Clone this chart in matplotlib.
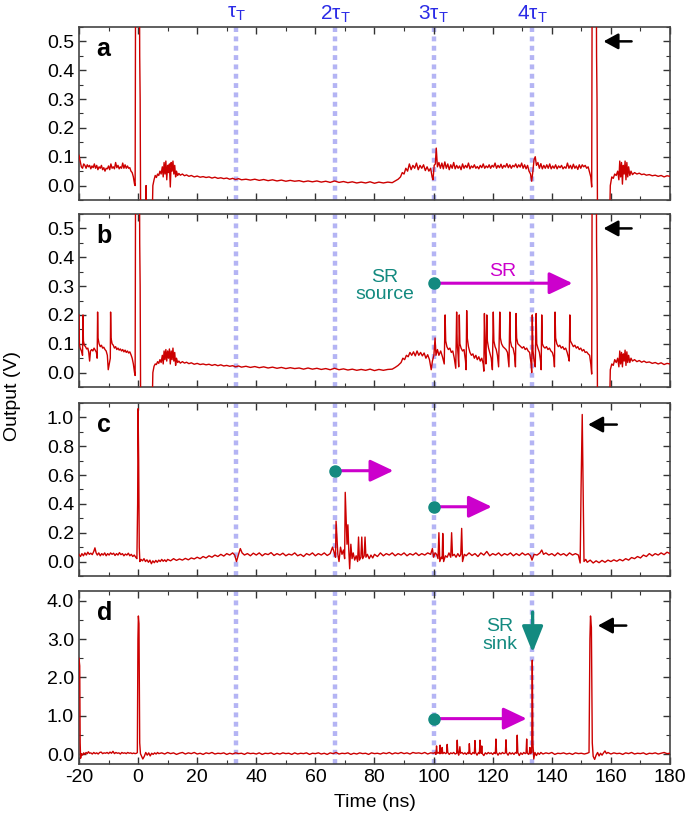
import numpy as np
import matplotlib.pyplot as plt
from matplotlib.ticker import MultipleLocator
from matplotlib.transforms import blended_transform_factory

plt.rcParams['font.family'] = ['Liberation Sans', 'DejaVu Sans']
plt.rcParams['axes.unicode_minus'] = False

# time (ns), output (V)
a_pts = np.array([
    (-20.0, 0.105), (-19.6, 0.085), (-19.2, 0.065), (-18.8, 0.06), (-18.4, 0.075), (-18.0, 0.07),
    (-17.6, 0.06), (-17.2, 0.072), (-16.8, 0.065), (-16.4, 0.07), (-16.0, 0.058), (-15.6, 0.068),
    (-15.2, 0.062), (-14.8, 0.075), (-14.4, 0.06), (-14.0, 0.07), (-13.6, 0.055), (-13.2, 0.065),
    (-12.8, 0.06), (-12.4, 0.07), (-12.0, 0.055), (-11.6, 0.062), (-11.2, 0.05), (-10.8, 0.06),
    (-10.4, 0.058), (-10.0, 0.068), (-9.6, 0.055), (-9.2, 0.075), (-8.8, 0.06), (-8.4, 0.065),
    (-8.0, 0.058), (-7.6, 0.08), (-7.2, 0.062), (-6.8, 0.07), (-6.4, 0.058), (-6.0, 0.065),
    (-5.6, 0.06), (-5.2, 0.078), (-4.8, 0.06), (-4.4, 0.072), (-4.0, 0.06), (-3.6, 0.068),
    (-3.2, 0.06), (-2.8, 0.062), (-2.4, 0.05), (-2.0, 0.045), (-1.6, 0.03), (-1.2, 0.005),
    (-1.0, 0.0), (-0.8, 0.9), (0.4, 0.9), (0.55, 0.45), (0.7, 0.3), (0.9, -0.2), (2.5, -0.2),
    (2.7, 0.0), (2.9, -0.2), (4.6, -0.2), (5.0, 0.0), (5.4, 0.02), (5.8, 0.035), (6.2, 0.028),
    (6.6, 0.04), (7.0, 0.035), (7.4, 0.05), (7.8, 0.04), (8.2, 0.065), (8.5, 0.03), (8.8, 0.08),
    (9.1, 0.04), (9.4, 0.085), (9.7, 0.02), (10.0, 0.07), (10.3, 0.045), (10.6, 0.075), (10.9, -0.005),
    (11.2, 0.08), (11.5, 0.05), (11.8, 0.085), (12.1, 0.04), (12.4, 0.07), (12.7, 0.03), (13.0, 0.05),
    (13.4, 0.035), (13.8, 0.042), (14.3, 0.036), (15.0, 0.04), (15.7, 0.034), (16.4, 0.037),
    (17.2, 0.032), (18.0, 0.035), (19.0, 0.03), (20.0, 0.033), (21.0, 0.029), (22.0, 0.031),
    (23.0, 0.028), (24.0, 0.03), (25.0, 0.026), (26.0, 0.029), (27.0, 0.025), (28.0, 0.027),
    (29.0, 0.024), (30.0, 0.026), (31.0, 0.022), (32.0, 0.025), (33.0, 0.021), (34.0, 0.024),
    (35.0, 0.02), (36.5, 0.022), (38.0, 0.019), (39.5, 0.022), (41.0, 0.018), (42.5, 0.021),
    (44.0, 0.017), (45.5, 0.02), (47.0, 0.016), (48.5, 0.019), (50.0, 0.015), (51.5, 0.018),
    (53.0, 0.015), (54.5, 0.017), (56.0, 0.013), (57.5, 0.016), (59.0, 0.013), (60.5, 0.016),
    (62.0, 0.012), (63.5, 0.015), (65.0, 0.011), (66.5, 0.016), (68.0, 0.011), (69.5, 0.014),
    (71.0, 0.01), (72.5, 0.013), (74.0, 0.009), (75.5, 0.012), (77.0, 0.009), (78.5, 0.013),
    (80.0, 0.008), (81.5, 0.012), (83.0, 0.009), (84.5, 0.012), (86.0, 0.01), (87.0, 0.016),
    (88.0, 0.022), (88.8, 0.03), (89.4, 0.045), (90.0, 0.04), (90.6, 0.06), (91.2, 0.05),
    (91.8, 0.075), (92.4, 0.055), (93.0, 0.07), (93.6, 0.06), (94.2, 0.078), (94.8, 0.055),
    (95.4, 0.07), (96.0, 0.06), (96.6, 0.072), (97.2, 0.052), (97.8, 0.065), (98.4, 0.05),
    (99.0, 0.06), (99.5, 0.03), (99.8, 0.02), (100.2, 0.07), (100.6, 0.075), (100.9, 0.13),
    (101.3, 0.065), (101.8, 0.08), (102.3, 0.06), (102.8, 0.078), (103.3, 0.058), (103.8, 0.082),
    (104.3, 0.06), (104.8, 0.075), (105.3, 0.055), (105.8, 0.072), (106.3, 0.06), (106.8, 0.08),
    (107.3, 0.058), (107.8, 0.07), (108.3, 0.06), (108.8, 0.068), (109.3, 0.055), (109.8, 0.075),
    (110.3, 0.06), (110.8, 0.07), (111.3, 0.062), (111.8, 0.078), (112.3, 0.058), (112.8, 0.068),
    (113.3, 0.062), (113.8, 0.072), (114.3, 0.06), (114.8, 0.066), (115.3, 0.058), (115.8, 0.07),
    (116.3, 0.062), (116.8, 0.075), (117.3, 0.06), (117.8, 0.068), (118.3, 0.062), (118.8, 0.072),
    (119.3, 0.06), (119.8, 0.07), (120.3, 0.064), (120.8, 0.078), (121.3, 0.06), (121.8, 0.07),
    (122.3, 0.062), (122.8, 0.074), (123.3, 0.06), (123.8, 0.07), (124.3, 0.064), (124.8, 0.076),
    (125.3, 0.062), (125.8, 0.072), (126.3, 0.06), (126.8, 0.07), (127.3, 0.065), (127.8, 0.075),
    (128.3, 0.062), (128.8, 0.072), (129.3, 0.064), (129.8, 0.078), (130.3, 0.06), (130.8, 0.072),
    (131.3, 0.058), (131.8, 0.07), (132.3, 0.05), (132.8, 0.04), (133.2, 0.015), (133.6, 0.05),
    (134.0, 0.09), (134.4, 0.1), (134.8, 0.07), (135.3, 0.08), (135.8, 0.06), (136.3, 0.076),
    (136.8, 0.058), (137.3, 0.07), (137.8, 0.06), (138.3, 0.072), (138.8, 0.06), (139.3, 0.075),
    (139.8, 0.058), (140.3, 0.068), (140.8, 0.06), (141.3, 0.072), (141.8, 0.058), (142.3, 0.068),
    (142.8, 0.062), (143.3, 0.07), (143.8, 0.058), (144.3, 0.065), (144.8, 0.06), (145.3, 0.078),
    (145.8, 0.06), (146.3, 0.07), (146.8, 0.058), (147.3, 0.074), (147.8, 0.06), (148.3, 0.068),
    (148.8, 0.056), (149.3, 0.072), (149.8, 0.06), (150.3, 0.072), (150.8, 0.065), (151.3, 0.07),
    (151.8, 0.06), (152.3, 0.065), (152.8, 0.045), (153.2, 0.03), (153.5, -0.005), (153.7, 0.9),
    (155.0, 0.9), (155.15, 0.45), (155.3, 0.3), (155.5, -0.2), (159.4, -0.2), (159.8, 0.0),
    (160.3, 0.03), (160.8, 0.025), (161.3, 0.04), (161.8, 0.035), (162.3, 0.05), (162.7, 0.02),
    (163.0, 0.085), (163.3, 0.03), (163.6, 0.08), (163.9, 0.005), (164.2, 0.07), (164.5, 0.04),
    (164.8, 0.085), (165.1, 0.02), (165.4, 0.08), (165.7, 0.03), (166.0, 0.065), (166.4, 0.035),
    (166.8, 0.05), (167.3, 0.038), (168.0, 0.045), (168.8, 0.04), (169.6, 0.043), (170.4, 0.038),
    (171.2, 0.04), (172.0, 0.036), (173.0, 0.038), (174.0, 0.034), (175.0, 0.036), (176.0, 0.032),
    (177.0, 0.035), (178.0, 0.03), (179.0, 0.034), (180.0, 0.032),
])

b_pts = np.array([
    (-20.0, 0.2), (-19.85, 0.1), (-19.6, 0.085), (-19.3, 0.078), (-19.0, 0.07), (-18.8, 0.06),
    (-18.65, 0.2), (-18.5, 0.11), (-18.2, 0.095), (-17.8, 0.09), (-17.4, 0.082), (-17.0, 0.085),
    (-16.7, 0.07), (-16.4, 0.04), (-16.1, 0.075), (-15.7, 0.08), (-15.3, 0.075), (-14.9, 0.085),
    (-14.5, 0.078), (-14.1, 0.07), (-13.85, 0.05), (-13.7, 0.21), (-13.55, 0.12), (-13.2, 0.1),
    (-12.8, 0.09), (-12.4, 0.095), (-12.0, 0.085), (-11.6, 0.088), (-11.2, 0.08), (-10.8, 0.075),
    (-10.4, 0.06), (-10.1, 0.01), (-9.4, 0.05), (-9.3, 0.21), (-9.15, 0.12), (-8.8, 0.1),
    (-8.4, 0.095), (-8.0, 0.085), (-7.6, 0.09), (-7.2, 0.08), (-6.8, 0.085), (-6.4, 0.078),
    (-6.0, 0.082), (-5.6, 0.075), (-5.2, 0.08), (-4.8, 0.072), (-4.4, 0.078), (-4.0, 0.07),
    (-3.6, 0.075), (-3.2, 0.068), (-2.8, 0.072), (-2.4, 0.062), (-2.0, 0.05), (-1.6, 0.03),
    (-1.2, 0.0), (-1.0, -0.01), (-0.8, 0.9), (0.4, 0.9), (0.55, 0.45), (0.7, 0.3), (0.9, -0.2),
    (4.6, -0.2), (5.0, 0.0), (5.4, 0.022), (5.8, 0.03), (6.2, 0.028), (6.6, 0.038), (7.0, 0.032),
    (7.4, 0.045), (7.8, 0.035), (8.2, 0.06), (8.5, 0.03), (8.8, 0.075), (9.1, 0.045), (9.4, 0.08),
    (9.7, 0.04), (10.0, 0.075), (10.3, 0.05), (10.6, 0.082), (10.9, 0.03), (11.2, 0.075),
    (11.5, 0.045), (11.8, 0.085), (12.1, 0.04), (12.4, 0.07), (12.7, 0.025), (13.0, 0.05),
    (13.4, 0.035), (13.8, 0.04), (14.3, 0.033), (15.0, 0.038), (15.7, 0.033), (16.4, 0.036),
    (17.2, 0.031), (18.0, 0.034), (19.0, 0.029), (20.0, 0.032), (21.0, 0.028), (22.0, 0.03),
    (23.0, 0.027), (24.0, 0.029), (25.0, 0.025), (26.0, 0.028), (27.0, 0.024), (28.0, 0.027),
    (29.0, 0.023), (30.0, 0.025), (31.0, 0.022), (32.0, 0.024), (33.0, 0.02), (34.0, 0.023),
    (35.0, 0.019), (36.5, 0.022), (38.0, 0.018), (39.5, 0.021), (41.0, 0.017), (42.5, 0.02),
    (44.0, 0.016), (45.5, 0.019), (47.0, 0.015), (48.5, 0.018), (50.0, 0.014), (51.5, 0.017),
    (53.0, 0.014), (54.5, 0.016), (56.0, 0.012), (57.5, 0.016), (59.0, 0.012), (60.5, 0.015),
    (62.0, 0.011), (63.5, 0.014), (65.0, 0.01), (66.5, 0.015), (68.0, 0.01), (69.5, 0.013),
    (71.0, 0.009), (72.5, 0.012), (74.0, 0.008), (75.5, 0.011), (77.0, 0.008), (78.5, 0.012),
    (80.0, 0.007), (81.5, 0.011), (83.0, 0.008), (84.5, 0.011), (86.0, 0.012), (87.0, 0.018),
    (88.0, 0.025), (89.0, 0.035), (89.6, 0.05), (90.2, 0.045), (90.8, 0.06), (91.4, 0.055),
    (92.0, 0.07), (92.6, 0.06), (93.2, 0.072), (93.8, 0.058), (94.4, 0.075), (95.0, 0.06),
    (95.6, 0.07), (96.2, 0.058), (96.8, 0.068), (97.4, 0.05), (98.0, 0.062), (98.6, 0.045),
    (99.2, 0.01), (99.6, 0.04), (100.1, 0.06), (100.5, 0.12), (100.8, 0.06), (101.3, 0.08),
    (101.8, 0.06), (102.4, 0.075), (103.0, 0.055), (103.6, 0.03), (103.9, 0.2), (104.1, 0.11),
    (104.5, 0.09), (105.0, 0.08), (105.5, 0.085), (106.0, 0.07), (106.5, 0.075), (107.0, 0.05),
    (107.5, 0.015), (107.8, 0.21), (108.0, 0.1), (108.3, 0.06), (108.5, 0.02), (108.7, 0.2),
    (108.9, 0.1), (109.3, 0.085), (109.8, 0.075), (110.3, 0.08), (110.8, 0.04), (111.0, 0.01),
    (111.2, 0.215), (111.4, 0.12), (111.8, 0.09), (112.3, 0.07), (112.8, 0.06), (113.3, 0.065),
    (113.8, 0.05), (114.3, 0.06), (114.8, 0.045), (115.3, 0.055), (115.8, 0.04), (116.3, 0.05),
    (116.8, 0.03), (117.0, 0.005), (117.2, 0.205), (117.4, 0.1), (117.7, 0.03), (118.0, 0.2),
    (118.2, 0.11), (118.6, 0.085), (119.0, 0.07), (119.5, 0.05), (119.9, 0.01), (120.2, 0.21),
    (120.4, 0.11), (120.8, 0.09), (121.2, 0.08), (121.6, 0.06), (122.0, 0.02), (122.4, 0.21),
    (122.6, 0.12), (123.0, 0.1), (123.5, 0.09), (124.0, 0.085), (124.5, 0.08), (125.0, 0.07),
    (125.5, 0.02), (125.8, 0.21), (126.0, 0.11), (126.4, 0.09), (126.9, 0.085), (127.4, 0.06),
    (127.7, 0.02), (127.9, 0.205), (128.1, 0.12), (128.5, 0.1), (129.0, 0.095), (129.5, 0.09),
    (130.0, 0.085), (130.5, 0.09), (131.0, 0.08), (131.5, 0.085), (132.0, 0.075), (132.5, 0.07),
    (133.0, 0.03), (133.2, 0.0), (133.4, 0.2), (133.6, 0.08), (134.0, 0.04), (134.4, 0.02),
    (134.7, 0.205), (134.9, 0.1), (135.3, 0.085), (135.8, 0.07), (136.2, 0.04), (136.4, 0.01),
    (136.6, 0.2), (136.8, 0.1), (137.2, 0.09), (137.7, 0.085), (138.2, 0.09), (138.7, 0.08),
    (139.2, 0.085), (139.7, 0.075), (140.2, 0.07), (140.7, 0.05), (140.9, 0.02), (141.1, 0.21),
    (141.3, 0.12), (141.7, 0.1), (142.2, 0.09), (142.7, 0.095), (143.2, 0.085), (143.7, 0.09),
    (144.2, 0.08), (144.7, 0.085), (145.2, 0.07), (145.7, 0.05), (145.9, 0.04), (146.1, 0.2),
    (146.3, 0.11), (146.8, 0.1), (147.3, 0.09), (147.8, 0.095), (148.3, 0.085), (148.8, 0.09),
    (149.3, 0.08), (149.8, 0.085), (150.3, 0.075), (150.8, 0.08), (151.3, 0.07), (151.8, 0.072),
    (152.3, 0.065), (152.8, 0.06), (153.2, 0.03), (153.5, -0.005), (153.7, 0.9), (155.0, 0.9),
    (155.15, 0.45), (155.3, 0.3), (155.5, -0.2), (159.4, -0.2), (159.8, 0.01), (160.3, 0.03),
    (160.8, 0.025), (161.3, 0.045), (161.8, 0.035), (162.3, 0.05), (162.7, 0.02), (163.0, 0.075),
    (163.3, 0.03), (163.6, 0.07), (163.9, 0.02), (164.2, 0.065), (164.5, 0.04), (164.8, 0.078),
    (165.1, 0.025), (165.4, 0.072), (165.7, 0.035), (166.0, 0.06), (166.4, 0.035), (166.8, 0.05),
    (167.3, 0.04), (168.0, 0.045), (168.8, 0.038), (169.6, 0.042), (170.4, 0.036), (171.2, 0.04),
    (172.0, 0.035), (173.0, 0.037), (174.0, 0.032), (175.0, 0.035), (176.0, 0.03), (177.0, 0.034),
    (178.0, 0.028), (179.0, 0.032), (180.0, 0.03),
])

c_pts = np.array([
    (-20.0, 0.05), (-19.5, 0.035), (-19.0, 0.055), (-18.5, 0.04), (-18.0, 0.06), (-17.5, 0.045),
    (-17.0, 0.065), (-16.5, 0.05), (-16.0, 0.058), (-15.5, 0.048), (-15.0, 0.07), (-14.6, 0.095),
    (-14.2, 0.06), (-13.8, 0.045), (-13.3, 0.06), (-12.8, 0.04), (-12.3, 0.055), (-11.8, 0.045),
    (-11.3, 0.06), (-10.8, 0.04), (-10.3, 0.055), (-9.8, 0.045), (-9.3, 0.06), (-8.8, 0.05),
    (-8.3, 0.058), (-7.8, 0.042), (-7.3, 0.055), (-6.8, 0.045), (-6.3, 0.062), (-5.8, 0.048),
    (-5.3, 0.055), (-4.8, 0.04), (-4.3, 0.052), (-3.8, 0.045), (-3.3, 0.058), (-2.8, 0.04),
    (-2.3, 0.05), (-1.8, 0.035), (-1.3, 0.045), (-0.8, 0.03), (-0.4, 0.02), (-0.15, 0.4),
    (0.0, 1.06), (0.2, 0.7), (0.4, 0.1), (0.6, 0.0), (1.0, 0.015), (1.5, 0.005), (2.0, 0.02),
    (2.5, 0.0), (3.0, 0.012), (3.5, -0.005), (4.0, 0.01), (4.5, -0.015), (5.0, 0.005), (5.5, -0.008),
    (6.0, 0.008), (6.5, -0.005), (7.0, 0.01), (7.5, 0.0), (8.0, 0.015), (8.5, 0.002), (9.0, 0.012),
    (9.5, 0.0), (10.0, 0.015), (11.0, 0.005), (12.0, 0.02), (13.0, 0.008), (14.0, 0.018),
    (15.0, 0.01), (16.0, 0.022), (17.0, 0.012), (18.0, 0.025), (19.0, 0.018), (20.0, 0.03),
    (21.0, 0.02), (22.0, 0.035), (23.0, 0.025), (24.0, 0.04), (25.0, 0.03), (26.0, 0.045),
    (27.0, 0.035), (28.0, 0.05), (29.0, 0.038), (30.0, 0.055), (31.0, 0.045), (32.0, 0.06),
    (32.7, 0.045), (33.3, 0.0), (34.0, 0.05), (34.6, 0.09), (35.2, 0.06), (36.0, 0.045),
    (37.0, 0.055), (38.0, 0.04), (39.0, 0.058), (40.0, 0.045), (41.0, 0.06), (42.0, 0.04),
    (43.0, 0.055), (44.0, 0.048), (45.0, 0.062), (46.0, 0.042), (47.0, 0.055), (48.0, 0.045),
    (49.0, 0.058), (50.0, 0.04), (51.0, 0.052), (52.0, 0.045), (53.0, 0.06), (54.0, 0.04),
    (55.0, 0.05), (56.0, 0.035), (57.0, 0.055), (58.0, 0.045), (59.0, 0.06), (60.0, 0.04),
    (61.0, 0.055), (62.0, 0.045), (63.0, 0.06), (64.0, 0.042), (65.0, 0.055), (65.8, 0.1),
    (66.4, 0.06), (66.8, 0.03), (67.0, 0.28), (67.3, 0.16), (67.6, 0.05), (68.0, 0.0),
    (68.5, 0.1), (69.0, 0.05), (69.5, 0.08), (69.9, 0.02), (70.1, 0.48), (70.4, 0.3), (70.7, 0.12),
    (71.0, 0.255), (71.3, 0.08), (71.6, -0.05), (72.0, 0.12), (72.4, 0.02), (72.8, 0.06),
    (73.3, 0.01), (73.8, 0.04), (74.3, 0.0), (74.6, 0.17), (74.9, 0.01), (75.4, 0.03),
    (75.7, 0.17), (76.0, 0.02), (76.5, 0.04), (76.8, 0.17), (77.1, 0.03), (77.6, 0.05),
    (78.2, 0.02), (78.8, 0.045), (79.4, 0.025), (80.0, 0.05), (81.0, 0.035), (82.0, 0.06),
    (83.0, 0.04), (84.0, 0.055), (85.0, 0.045), (86.0, 0.06), (87.0, 0.04), (88.0, 0.055),
    (89.0, 0.045), (90.0, 0.06), (91.0, 0.04), (92.0, 0.055), (93.0, 0.045), (94.0, 0.06),
    (95.0, 0.042), (96.0, 0.055), (97.0, 0.045), (98.0, 0.06), (99.0, 0.05), (99.6, 0.09),
    (100.0, 0.03), (100.5, 0.06), (101.0, 0.05), (101.5, 0.02), (101.8, 0.2), (102.1, 0.0),
    (102.6, 0.03), (102.9, 0.02), (103.1, 0.195), (103.4, 0.0), (104.0, 0.04), (104.6, 0.03),
    (105.2, 0.06), (105.8, 0.03), (106.1, 0.2), (106.4, 0.04), (107.0, 0.05), (107.6, 0.03),
    (108.2, 0.055), (108.8, 0.035), (109.2, 0.05), (109.5, 0.23), (109.8, 0.0), (110.4, 0.05),
    (111.0, 0.04), (112.0, 0.06), (113.0, 0.042), (114.0, 0.055), (115.0, 0.035), (116.0, 0.06),
    (117.0, 0.045), (118.0, 0.07), (119.0, 0.04), (120.0, 0.055), (121.0, 0.045), (122.0, 0.06),
    (123.0, 0.04), (124.0, 0.055), (125.0, 0.045), (126.0, 0.06), (127.0, 0.04), (128.0, 0.055),
    (129.0, 0.042), (130.0, 0.06), (131.0, 0.045), (132.0, 0.055), (132.8, 0.04), (133.3, 0.01),
    (134.0, 0.05), (135.0, 0.045), (136.0, 0.06), (136.6, 0.08), (137.2, 0.05), (138.0, 0.06),
    (139.0, 0.045), (140.0, 0.055), (141.0, 0.04), (142.0, 0.06), (143.0, 0.045), (144.0, 0.055),
    (145.0, 0.04), (146.0, 0.06), (147.0, 0.045), (148.0, 0.055), (149.0, 0.045), (149.6, -0.01),
    (149.9, 0.5), (150.3, 1.02), (150.6, 0.5), (150.9, 0.0), (151.5, 0.015), (152.0, -0.005),
    (153.0, 0.01), (154.0, -0.01), (155.0, 0.005), (156.0, -0.008), (157.0, 0.008), (158.0, -0.005),
    (159.0, 0.01), (160.0, 0.0), (161.0, 0.012), (162.0, 0.002), (163.0, 0.015), (164.0, 0.005),
    (165.0, 0.02), (166.0, 0.01), (167.0, 0.028), (168.0, 0.02), (169.0, 0.035), (170.0, 0.025),
    (171.0, 0.045), (172.0, 0.035), (173.0, 0.055), (174.0, 0.04), (175.0, 0.055), (176.0, 0.045),
    (177.0, 0.06), (178.0, 0.048), (179.0, 0.065), (180.0, 0.055),
])

d_pts = np.array([
    (-20.0, 2.5), (-19.75, 2.3), (-19.6, 0.3), (-19.45, -0.1), (-19.2, 0.02), (-18.8, -0.02),
    (-18.4, 0.04), (-18.0, 0.0), (-17.6, 0.05), (-17.2, 0.02), (-16.8, 0.07), (-16.4, 0.03),
    (-16.0, 0.04), (-15.5, 0.01), (-15.0, 0.05), (-14.5, 0.02), (-14.0, 0.04), (-13.5, 0.01),
    (-13.0, 0.05), (-12.5, 0.06), (-12.0, 0.02), (-11.5, 0.04), (-11.0, 0.03), (-10.5, 0.05),
    (-10.0, 0.02), (-9.5, 0.06), (-9.0, 0.03), (-8.5, 0.08), (-8.0, 0.02), (-7.5, 0.05),
    (-7.0, 0.03), (-6.5, 0.04), (-6.0, 0.01), (-5.5, 0.05), (-5.0, 0.03), (-4.5, 0.04),
    (-4.0, 0.02), (-3.5, 0.05), (-3.0, 0.03), (-2.5, 0.04), (-2.0, 0.02), (-1.5, 0.035),
    (-1.0, 0.02), (-0.5, 0.03), (-0.25, 0.05), (-0.05, 3.0), (0.1, 3.6), (0.3, 3.4), (0.55, 0.3),
    (0.8, 0.02), (1.2, -0.05), (1.6, -0.12), (2.1, -0.05), (2.6, 0.05), (3.1, -0.02), (3.6, 0.04),
    (4.1, -0.04), (4.6, 0.03), (5.1, 0.0), (5.6, 0.04), (6.1, 0.01), (6.6, 0.05), (7.0, 0.02),
    (8.0, 0.04), (9.0, 0.01), (10.0, 0.05), (11.0, 0.02), (12.0, 0.04), (13.0, 0.0), (14.0, 0.03),
    (15.0, 0.05), (16.0, 0.01), (17.0, 0.04), (18.0, 0.02), (19.0, 0.05), (20.0, 0.01),
    (21.0, 0.03), (22.0, 0.0), (23.0, 0.04), (24.0, 0.02), (25.0, 0.05), (26.0, 0.01),
    (27.0, 0.03), (28.0, 0.02), (29.0, 0.04), (30.0, 0.0), (31.0, 0.03), (32.0, 0.01),
    (33.0, 0.04), (34.0, 0.02), (35.0, 0.03), (36.0, 0.0), (37.0, 0.04), (38.0, 0.02),
    (39.0, 0.03), (40.0, 0.01), (41.0, 0.04), (42.0, 0.0), (43.0, 0.03), (44.0, 0.02),
    (45.0, 0.04), (46.0, 0.0), (47.0, 0.03), (48.0, 0.01), (49.0, 0.04), (50.0, 0.02),
    (51.0, 0.03), (52.0, 0.0), (53.0, 0.04), (54.0, 0.01), (55.0, 0.03), (56.0, 0.02),
    (57.0, 0.04), (58.0, 0.0), (59.0, 0.03), (60.0, 0.02), (61.0, 0.04), (62.0, 0.01),
    (63.0, 0.03), (64.0, 0.0), (65.0, 0.04), (66.0, 0.02), (67.0, 0.05), (68.0, 0.01),
    (69.0, 0.03), (70.0, 0.02), (71.0, 0.04), (72.0, 0.0), (73.0, 0.03), (74.0, 0.01),
    (75.0, 0.04), (76.0, 0.02), (77.0, 0.03), (78.0, 0.0), (79.0, 0.04), (80.0, 0.02),
    (81.0, 0.03), (82.0, 0.01), (83.0, 0.04), (84.0, 0.02), (85.0, 0.05), (86.0, 0.01),
    (87.0, 0.04), (88.0, 0.02), (89.0, 0.05), (90.0, 0.02), (91.0, 0.04), (92.0, 0.01),
    (93.0, 0.05), (94.0, 0.03), (95.0, 0.04), (96.0, 0.02), (97.0, 0.05), (98.0, 0.01),
    (99.0, 0.04), (100.0, 0.03), (100.5, 0.05), (100.8, 0.0), (101.0, 0.22), (101.2, 0.03),
    (101.7, 0.05), (102.0, 0.02), (102.2, 0.24), (102.4, 0.02), (102.7, 0.05), (102.9, 0.18),
    (103.1, 0.02), (103.6, 0.05), (104.1, 0.02), (104.4, 0.04), (104.6, 0.26), (104.8, 0.05),
    (105.3, 0.0), (105.8, 0.04), (106.3, 0.02), (106.8, 0.05), (107.3, 0.01), (107.8, 0.03),
    (108.0, 0.37), (108.2, 0.05), (108.5, -0.02), (108.9, 0.2), (109.1, 0.03), (109.6, 0.05),
    (110.1, 0.01), (110.6, 0.04), (111.1, 0.0), (111.6, 0.05), (111.9, 0.02), (112.1, 0.28),
    (112.3, 0.04), (112.8, 0.0), (113.3, 0.05), (113.8, 0.02), (114.0, 0.36), (114.2, 0.05),
    (114.7, -0.02), (115.2, 0.05), (115.5, 0.02), (115.7, 0.37), (115.9, 0.05), (116.1, 0.03),
    (116.3, 0.22), (116.5, 0.02), (117.0, -0.03), (117.5, 0.04), (118.0, 0.01), (118.5, 0.05),
    (119.0, 0.02), (119.5, 0.04), (120.0, 0.0), (120.5, 0.05), (120.9, 0.02), (121.1, 0.4),
    (121.3, 0.05), (121.8, -0.02), (122.3, 0.04), (122.8, 0.01), (123.3, 0.05), (123.8, 0.02),
    (124.3, 0.04), (124.5, 0.38), (124.7, 0.04), (125.2, -0.02), (125.7, 0.05), (126.2, 0.01),
    (126.7, 0.04), (127.2, 0.0), (127.7, 0.05), (128.1, 0.03), (128.3, 0.5), (128.5, 0.05),
    (129.0, -0.03), (129.5, 0.04), (130.0, 0.0), (130.5, 0.05), (131.0, 0.02), (131.3, 0.04),
    (131.5, 0.4), (131.7, 0.03), (132.2, 0.0), (132.4, 0.05), (132.6, 0.18), (132.8, 0.02),
    (133.2, 0.05), (133.4, 2.45), (133.6, 0.3), (133.9, -0.12), (134.3, 0.05), (134.8, -0.03),
    (135.3, 0.04), (135.8, 0.0), (136.3, 0.05), (137.0, 0.01), (138.0, 0.04), (139.0, 0.02),
    (140.0, 0.05), (141.0, 0.0), (142.0, 0.03), (143.0, 0.02), (144.0, 0.04), (145.0, 0.01),
    (146.0, 0.03), (147.0, 0.0), (148.0, 0.04), (149.0, 0.02), (150.0, 0.03), (151.0, 0.01),
    (152.0, 0.03), (152.6, 0.05), (152.9, 3.0), (153.1, 3.6), (153.4, 3.3), (153.7, 0.3),
    (154.0, -0.05), (154.5, -0.13), (155.0, -0.02), (155.5, 0.05), (156.0, -0.04), (156.5, 0.03),
    (157.0, -0.02), (157.5, 0.04), (158.0, 0.09), (158.5, 0.02), (159.0, 0.05), (160.0, 0.01),
    (161.0, 0.04), (162.0, 0.02), (163.0, 0.03), (164.0, 0.0), (165.0, 0.04), (166.0, 0.02),
    (167.0, 0.05), (168.0, 0.01), (169.0, 0.03), (170.0, 0.02), (171.0, 0.04), (172.0, 0.0),
    (173.0, 0.03), (174.0, 0.02), (175.0, 0.04), (176.0, 0.01), (177.0, 0.03), (178.0, 0.05),
    (179.0, 0.02), (180.0, 0.03),
])

tau_T = [33.3, 66.7, 100.0, 133.3]
tau_labels = ['τ$_\\mathregular{T}$', '2τ$_\\mathregular{T}$', '3τ$_\\mathregular{T}$', '4τ$_\\mathregular{T}$']
panel_letters = ['a', 'b', 'c', 'd']
ylims = [(-0.05, 0.55), (-0.05, 0.55), (-0.1, 1.1), (-0.25, 4.25)]
ymajor = [0.1, 0.1, 0.2, 1.0]
yminor = [0.05, 0.05, 0.1, 0.5]
# black pump-pulse arrows (tail time, head time, level)
pump_arrows = [(167.0, 157.5, 0.50), (167.0, 157.5, 0.50), (162.0, 152.3, 0.95), (165.2, 155.6, 3.35)]
# SR source dot and arrow tip for each panel (panel index, start, end, level)
sr_arrows = [(1, 100.0, 147.0, 0.31), (2, 66.7, 86.4, 0.63), (2, 100.0, 119.7, 0.38), (3, 100.0, 131.5, 0.93)]

red = '#cc0000'
teal = '#138a80'
magenta = '#cc00cc'
blue = '#2b2be6'
dotline = '#b4b4f4'

fig = plt.figure(figsize=(6.85, 8.24), dpi=100)
left, width, height = 0.1153, 0.8628, 0.21
bottoms = [0.7573, 0.5303, 0.3010, 0.0728]
axes = [fig.add_axes([left, b, width, height]) for b in bottoms]

for i, (ax, pts) in enumerate(zip(axes, [a_pts, b_pts, c_pts, d_pts])):
    for t in tau_T:
        ax.axvline(t, color=dotline, lw=3.2, ls=(0, (1.1, 1.0)), zorder=1)
    ax.plot(pts[:, 0], pts[:, 1], color=red, lw=1.0, zorder=3)
    ax.set_xlim(-20, 180)
    ax.set_ylim(*ylims[i])
    ax.xaxis.set_major_locator(MultipleLocator(20))
    ax.xaxis.set_minor_locator(MultipleLocator(10))
    ax.yaxis.set_major_locator(MultipleLocator(ymajor[i]))
    ax.yaxis.set_minor_locator(MultipleLocator(yminor[i]))
    ax.yaxis.set_major_formatter(plt.FormatStrFormatter('%.1f'))
    ax.tick_params(which='both', direction='in', top=True, right=True, labelsize=14, color='#333333')
    ax.tick_params(which='major', length=5, width=1.0)
    ax.tick_params(which='minor', length=3, width=0.8)
    for sp in ax.spines.values():
        sp.set_color('#444444')
        sp.set_linewidth(1.2)
    if i < 3:
        ax.tick_params(labelbottom=False)
    ax.text(0.03, 0.87, panel_letters[i], transform=ax.transAxes, fontsize=18,
            fontweight='bold', va='center', ha='left')
    tail, head, lvl = pump_arrows[i]
    ax.annotate('', xy=(head, lvl), xytext=(tail, lvl),
                arrowprops=dict(arrowstyle='-|>,head_length=0.55,head_width=0.3', color='black',
                                lw=1.8, mutation_scale=16, shrinkA=0, shrinkB=0), zorder=5)

for idx, t0, t1, lvl in sr_arrows:
    ax = axes[idx]
    ax.annotate('', xy=(t1, lvl), xytext=(t0, lvl),
                arrowprops=dict(arrowstyle='-|>,head_length=0.95,head_width=0.45', color=magenta,
                                lw=2.2, mutation_scale=15, shrinkA=0, shrinkB=0), zorder=5)
    ax.plot(t0, lvl, 'o', color=teal, ms=8, zorder=6)

# labels for the tau_T lines
trans = blended_transform_factory(axes[0].transData, axes[0].transAxes)
for t, lab in zip(tau_T, tau_labels):
    axes[0].text(t, 1.075, lab, transform=trans, color=blue, fontsize=15, ha='center', va='center')

axes[1].text(83.4, 0.30, 'SR\nsource', color=teal, fontsize=14, ha='center', va='center', linespacing=1.05)
axes[1].text(123.3, 0.35, 'SR', color=magenta, fontsize=14, ha='center', va='center')

axes[3].annotate('', xy=(133.5, 2.65), xytext=(133.5, 3.7),
                 arrowprops=dict(arrowstyle='-|>,head_length=1.0,head_width=0.4', color=teal,
                                 lw=2.4, mutation_scale=16, shrinkA=0, shrinkB=0), zorder=6)
axes[3].text(122.3, 3.1, 'SR\nsink', color=teal, fontsize=14, ha='center', va='center', linespacing=1.05)

axes[3].set_xlabel('Time (ns)', fontsize=14, labelpad=6)
fig.text(0.018, 0.52, 'Output (V)', rotation=90, fontsize=14, ha='center', va='center')

fig.savefig('out.png', dpi=100)
